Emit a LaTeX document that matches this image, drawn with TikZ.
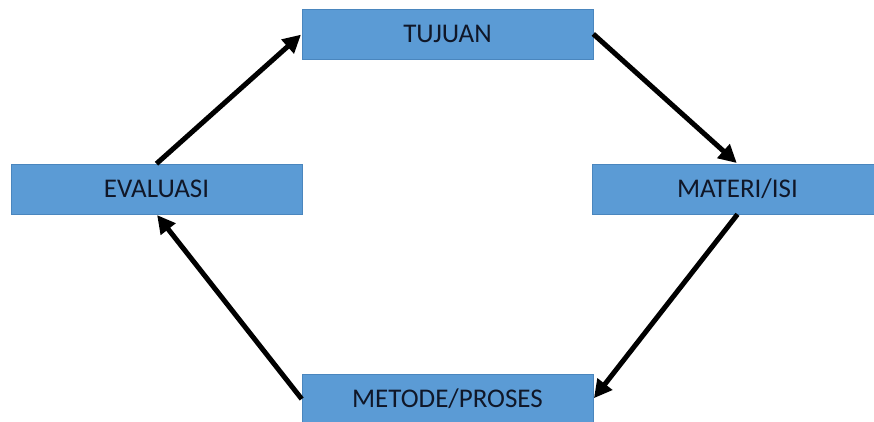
\documentclass[tikz,border=0pt]{standalone}
\usepackage{fontspec}
\setmainfont{Carlito}
\usepackage{xcolor}
\usepackage{tikz}
\usetikzlibrary{arrows.meta, positioning}

\definecolor{boxblue}{HTML}{5B9BD5}
\definecolor{boxline}{HTML}{4A86BE}
\definecolor{boxtext}{HTML}{101728}

\begin{document}
\begin{tikzpicture}[x=1pt, y=1pt]
		\tikzstyle{stage} = [draw=boxline, line width=0.6pt, fill=boxblue, rectangle, minimum width=291pt, minimum height=50pt, inner sep=0pt, text=boxtext, font=\fontsize{27}{30}\selectfont]
		\tikzstyle{arrow} = [line width=5pt, -{Triangle[length=18pt, width=18pt]}, shorten >=1pt]
		
		\clip (0, 0) rectangle (874, 422);
		\useasboundingbox (0, 0) rectangle (874, 422);
		
		\node[stage] 	at (447.5, 388) 	(tj) 	{TUJUAN};
		\node[stage] 	at (156.5, 233)		(ev) 	{EVALUASI};
		\node[stage] 	at (737.5, 233)		(mi) 	{MATERI/ISI};
		\node[stage] 	at (447.5, 23)		(mp) 	{METODE/PROSES};
		
		\path[arrow]
		(ev.north) 	edge 	(tj.west)
		(tj.east) 	edge 	(mi.north)
		(mi.south) 	edge 	(mp.east)
		(mp.west) 	edge 	(ev.south);
	\end{tikzpicture}
\end{document}
